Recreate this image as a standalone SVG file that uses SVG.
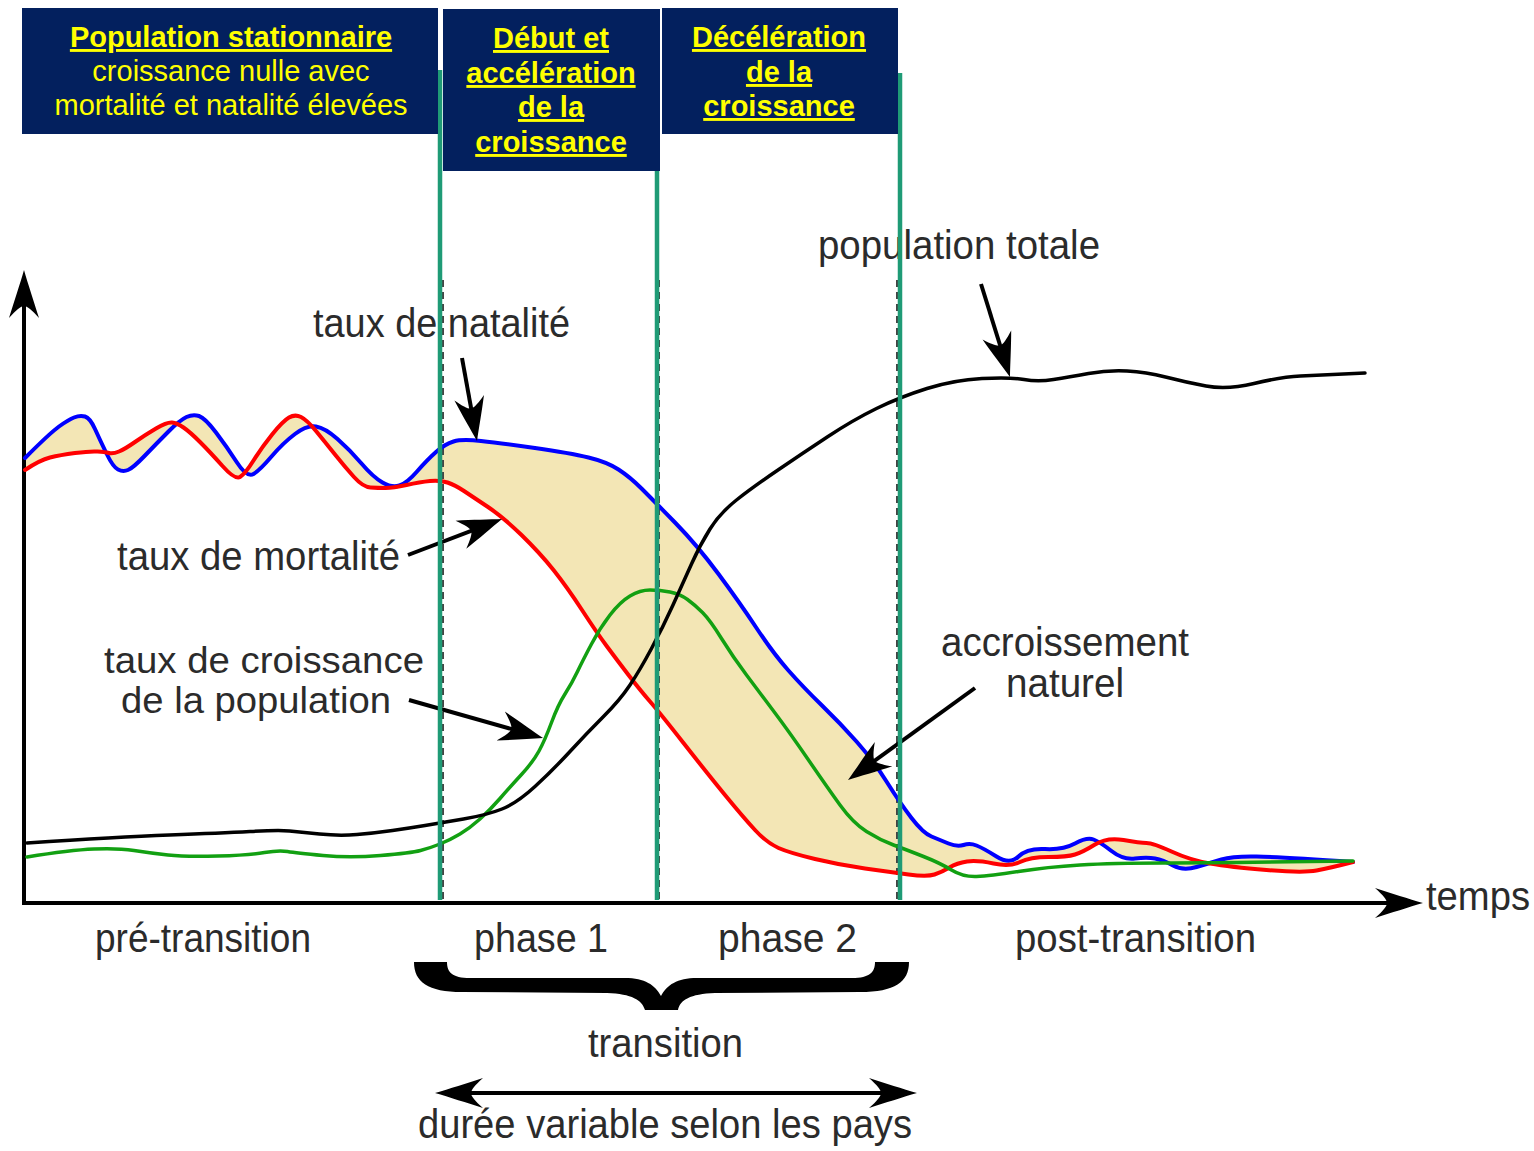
<svg xmlns="http://www.w3.org/2000/svg" width="1534" height="1151" viewBox="0 0 1534 1151">
<style>
.hdr{fill:#03205e}
.ht{font-family:"Liberation Sans",Arial,sans-serif;font-size:29px;fill:#ffff00;text-anchor:middle}
.hb{font-weight:bold;text-decoration:underline}
.lbl{font-family:"Liberation Sans",Arial,sans-serif;font-size:40px;fill:#2b2b2b}
.sm{font-size:37px}
.curve{fill:none;stroke-linejoin:round;stroke-linecap:round}
.gl{stroke:#1f9b76;stroke-width:4.5;fill:none}
.dl{stroke:#444;stroke-width:2;stroke-dasharray:7 5;fill:none}
.arr{stroke:#000;stroke-width:4;fill:none;marker-end:url(#ah)}
.axis{stroke:#000;stroke-width:4;fill:none}
</style>
<defs>
<marker id="ah" viewBox="-50 -20 60 40" markerWidth="60" markerHeight="40" refX="-12" refY="0" orient="auto" markerUnits="userSpaceOnUse">
<path d="M0,0 C-12,-4 -28,-10 -44,-15 C-37,-8 -33,-3 -33,0 C-33,3 -37,8 -44,15 C-28,10 -12,4 0,0 Z" fill="#000"/>
</marker>
<marker id="axh" viewBox="-56 -20 66 40" markerWidth="66" markerHeight="40" refX="-12" refY="0" orient="auto-start-reverse" markerUnits="userSpaceOnUse">
<path d="M0,0 C-14,-4 -32,-10 -48,-15 C-40,-8 -36,-3 -36,0 C-36,3 -40,8 -48,15 C-32,10 -14,4 0,0 Z" fill="#000"/>
</marker>
</defs>
<rect width="1534" height="1151" fill="#fff"/>

<g id="fill-accroissement">
<path fill="#f3e6b5" d="M25,458 Q50,433 59,426.5 Q68,420 74,417.5 Q80,415 85,416.5 Q90,418 95,429 Q100,440 106.5,453.5 Q113,467 118,469.5 Q123,472 128,470 Q133,468 145,455.5 Q157,443 168.5,431.5 Q180,420 186.5,417 Q193,414 199,416 Q205,418 216,432.5 Q227,447 237,462.5 Q247,478 253.5,474 Q260,470 271.5,456.5 Q283,443 295,434 Q307,425 316,426.5 Q325,428 337.5,439 Q350,450 361.5,463.5 Q373,477 382.5,482.5 Q392,488 399.5,485.5 Q407,483 417,471.5 Q427,460 436,452 Q445,444 453.5,441.5 Q462,439 481,441 Q500,443 535,448 Q570,453 588.5,457.5 Q607,462 618.5,469.5 Q630,477 641.5,488.5 Q653,500 675,522.5 Q697,545 718.5,574 Q740,603 756.5,628 Q773,653 788,670 Q803,687 821.5,705 Q840,723 856.5,741.5 Q873,760 886.5,781.5 Q900,803 911.5,818 Q923,833 931.5,836.5 Q940,840 948.5,843.5 Q957,847 963.5,845 Q970,843 976.5,845.5 Q983,848 996.5,856.5 Q1010,865 1018.5,856.5 Q1027,848 1045,849 Q1063,850 1075,843.5 Q1087,837 1093.5,839.5 Q1100,842 1111.5,851 Q1123,860 1135,858.5 Q1147,857 1155,858.5 Q1163,860 1173,865.5 Q1183,871 1196.5,867 Q1210,863 1221.5,859.5 Q1233,856 1256.5,856.5 Q1280,857 1353,862 Q1330,868 1316.5,870.5 Q1303,873 1266.5,870 Q1230,867 1210,863.5 Q1190,860 1171.5,851.5 Q1153,843 1146.5,843 Q1140,843 1123.5,840 Q1107,837 1095,844.5 Q1083,852 1075,854.5 Q1067,857 1048.5,857 Q1030,857 1020,862 Q1010,867 993.5,863.5 Q977,860 967,861.5 Q957,863 949.5,867.5 Q942,872 934.5,874.5 Q927,877 908.5,874.5 Q890,872 865,868.5 Q840,865 815,859 Q790,853 778.5,848 Q767,843 755,830 Q743,817 725,795 Q707,773 683.5,743 Q660,713 650,701.5 Q640,690 628.5,675 Q617,660 607,646.5 Q597,633 582,610 Q567,587 553.5,570 Q540,553 521.5,535 Q503,517 488,507 Q473,497 464,491 Q455,485 447.5,482.5 Q440,480 430,481 Q420,482 406.5,485 Q393,488 385.5,488 Q378,488 370.5,487.5 Q363,487 354,477 Q345,467 335,454.5 Q325,442 316,431 Q307,420 301,417 Q295,414 289,417.5 Q283,421 272.5,434 Q262,447 253.5,460.5 Q245,474 240,477 Q235,480 222.5,466 Q210,452 200,442 Q190,432 183.5,427.5 Q177,423 172,422.5 Q167,422 156,428.5 Q145,435 135,442 Q125,449 119,451.5 Q113,454 109,453 Q105,452 97.5,451.5 Q90,451 75,453 Q60,455 50,457.5 Q40,460 25,470 Z"/>
</g>

<g id="phase-dashes">
<line class="dl" x1="443" y1="280" x2="443" y2="903"/>
<line class="dl" x1="659" y1="280" x2="659" y2="903"/>
<line class="dl" x1="897" y1="280" x2="897" y2="903"/>
</g>

<g id="axes">
<line class="axis" x1="24" y1="905" x2="24" y2="282" marker-end="url(#axh)"/>
<line class="axis" x1="22" y1="903" x2="1411" y2="903" marker-end="url(#axh)"/>
</g>

<g id="curve-natalite">
<path class="curve" stroke="#0000ff" stroke-width="4" d="M25,458 Q50,433 59,426.5 Q68,420 74,417.5 Q80,415 85,416.5 Q90,418 95,429 Q100,440 106.5,453.5 Q113,467 118,469.5 Q123,472 128,470 Q133,468 145,455.5 Q157,443 168.5,431.5 Q180,420 186.5,417 Q193,414 199,416 Q205,418 216,432.5 Q227,447 237,462.5 Q247,478 253.5,474 Q260,470 271.5,456.5 Q283,443 295,434 Q307,425 316,426.5 Q325,428 337.5,439 Q350,450 361.5,463.5 Q373,477 382.5,482.5 Q392,488 399.5,485.5 Q407,483 417,471.5 Q427,460 436,452 Q445,444 453.5,441.5 Q462,439 481,441 Q500,443 535,448 Q570,453 588.5,457.5 Q607,462 618.5,469.5 Q630,477 641.5,488.5 Q653,500 675,522.5 Q697,545 718.5,574 Q740,603 756.5,628 Q773,653 788,670 Q803,687 821.5,705 Q840,723 856.5,741.5 Q873,760 886.5,781.5 Q900,803 911.5,818 Q923,833 931.5,836.5 Q940,840 948.5,843.5 Q957,847 963.5,845 Q970,843 976.5,845.5 Q983,848 996.5,856.5 Q1010,865 1018.5,856.5 Q1027,848 1045,849 Q1063,850 1075,843.5 Q1087,837 1093.5,839.5 Q1100,842 1111.5,851 Q1123,860 1135,858.5 Q1147,857 1155,858.5 Q1163,860 1173,865.5 Q1183,871 1196.5,867 Q1210,863 1221.5,859.5 Q1233,856 1256.5,856.5 Q1280,857 1353,862"/>
</g>
<g id="curve-mortalite">
<path class="curve" stroke="#ff0000" stroke-width="4" d="M25,470 Q40,460 50,457.5 Q60,455 75,453 Q90,451 97.5,451.5 Q105,452 109,453 Q113,454 119,451.5 Q125,449 135,442 Q145,435 156,428.5 Q167,422 172,422.5 Q177,423 183.5,427.5 Q190,432 200,442 Q210,452 222.5,466 Q235,480 240,477 Q245,474 253.5,460.5 Q262,447 272.5,434 Q283,421 289,417.5 Q295,414 301,417 Q307,420 316,431 Q325,442 335,454.5 Q345,467 354,477 Q363,487 370.5,487.5 Q378,488 385.5,488 Q393,488 406.5,485 Q420,482 430,481 Q440,480 447.5,482.5 Q455,485 464,491 Q473,497 488,507 Q503,517 521.5,535 Q540,553 553.5,570 Q567,587 582,610 Q597,633 607,646.5 Q617,660 628.5,675 Q640,690 650,701.5 Q660,713 683.5,743 Q707,773 725,795 Q743,817 755,830 Q767,843 778.5,848 Q790,853 815,859 Q840,865 865,868.5 Q890,872 908.5,874.5 Q927,877 934.5,874.5 Q942,872 949.5,867.5 Q957,863 967,861.5 Q977,860 993.5,863.5 Q1010,867 1020,862 Q1030,857 1048.5,857 Q1067,857 1075,854.5 Q1083,852 1095,844.5 Q1107,837 1123.5,840 Q1140,843 1146.5,843 Q1153,843 1171.5,851.5 Q1190,860 1210,863.5 Q1230,867 1266.5,870 Q1303,873 1316.5,870.5 Q1330,868 1353,862"/>
</g>
<g id="curve-croissance">
<path class="curve" stroke="#12a012" stroke-width="3.5" d="M27,857 Q70,850 94,849 Q118,848 134,850.5 Q150,853 168,855 Q186,857 218,856 Q250,855 264.5,852.5 Q279,850 287.5,851.5 Q296,853 323,855.5 Q350,858 380.5,855.5 Q411,853 420.5,850.5 Q430,848 440,844 Q450,840 460,834 Q470,828 480,819 Q490,810 500,798.5 Q510,787 521.5,774.5 Q533,762 539,751 Q545,740 551.5,722.5 Q558,705 565,694 Q572,683 577.5,671.5 Q583,660 591.5,644 Q600,628 610,615 Q620,602 630,596 Q640,590 650,590 Q660,590 670,592 Q680,594 687.5,599.5 Q695,605 702.5,612.5 Q710,620 721.5,638.5 Q733,657 746.5,675 Q760,693 775,713 Q790,733 808.5,760 Q827,787 840,805 Q853,823 866.5,831.5 Q880,840 893.5,845 Q907,850 923.5,856.5 Q940,863 951.5,870 Q963,877 976.5,876.5 Q990,876 1018.5,871.5 Q1047,867 1080,865 Q1113,863 1163,863 Q1213,863 1353,861"/>
</g>
<g id="curve-population">
<path class="curve" stroke="#000" stroke-width="3.5" d="M27,843 Q118,837 169.5,835 Q221,833 250,831.5 Q279,830 289.5,831 Q300,832 319.5,834 Q339,836 357,834.5 Q375,833 392.5,830.5 Q410,828 425,825.5 Q440,823 463.5,819 Q487,815 502,809 Q517,803 535,786.5 Q553,770 570,751.5 Q587,733 603.5,716.5 Q620,700 630,685 Q640,670 651.5,648.5 Q663,627 673,605 Q683,583 691.5,564 Q700,545 710,529 Q720,513 736.5,500 Q753,487 778,470 Q803,453 828,436.5 Q853,420 876.5,408.5 Q900,397 927,388.5 Q954,380 982,378.5 Q1010,377 1024,379.5 Q1038,382 1053.5,379.5 Q1069,377 1088.5,373.5 Q1108,370 1127,371 Q1146,372 1165.5,377 Q1185,382 1206,386 Q1227,390 1254,383.5 Q1281,377 1300.5,376 Q1320,375 1365,373"/>
</g>

<g id="labels">
<text class="lbl" x="313" y="337" textLength="257" lengthAdjust="spacingAndGlyphs">taux de natalité</text>
<text class="lbl" x="818" y="259" textLength="282" lengthAdjust="spacingAndGlyphs">population totale</text>
<text class="lbl" x="117" y="570" textLength="283" lengthAdjust="spacingAndGlyphs">taux de mortalité</text>
<text class="lbl sm" x="104" y="673" textLength="320" lengthAdjust="spacingAndGlyphs">taux de croissance</text>
<text class="lbl sm" x="121" y="713" textLength="270" lengthAdjust="spacingAndGlyphs">de la population</text>
<text class="lbl" x="941" y="656" textLength="248" lengthAdjust="spacingAndGlyphs">accroissement</text>
<text class="lbl" x="1006" y="697" textLength="118" lengthAdjust="spacingAndGlyphs">naturel</text>
<text class="lbl" x="95" y="952" textLength="216" lengthAdjust="spacingAndGlyphs">pré-transition</text>
<text class="lbl" x="474" y="952" textLength="134" lengthAdjust="spacingAndGlyphs">phase 1</text>
<text class="lbl" x="718" y="952" textLength="139" lengthAdjust="spacingAndGlyphs">phase 2</text>
<text class="lbl" x="1015" y="952" textLength="241" lengthAdjust="spacingAndGlyphs">post-transition</text>
<text class="lbl" x="1426" y="910" textLength="104" lengthAdjust="spacingAndGlyphs">temps</text>
<text class="lbl" x="588" y="1057" textLength="155" lengthAdjust="spacingAndGlyphs">transition</text>
<text class="lbl" x="418" y="1138" textLength="494" lengthAdjust="spacingAndGlyphs">durée variable selon les pays</text>
</g>

<g id="connectors">
<line class="arr" x1="462" y1="358" x2="474.9" y2="429.2"/>
<line class="arr" x1="408" y1="555" x2="490.8" y2="523.3"/>
<line class="arr" x1="409" y1="700" x2="531.5" y2="734.7"/>
<line class="arr" x1="981" y1="284" x2="1006.4" y2="365.5"/>
<line class="arr" x1="975" y1="688" x2="857.7" y2="773"/>
<line stroke="#000" stroke-width="4" x1="447" y1="1093" x2="905" y2="1093" marker-start="url(#axh)" marker-end="url(#axh)"/>
<path id="brace" fill="#000" d="M414,962 L447,962 C447,972 452,978 470,978 L625,978 C645,978 655,985 661,996 C667,985 677,978 697,978 L852,978 C870,978 875,972 875,962 L909,962 C909,982 895,992 860,992 L715,993 C690,994 680,1000 678,1010 L645,1010 C642,1000 632,994 607,993 L462,992 C428,992 414,982 414,962 Z"/>
</g>

<g id="phase-lines">
<line class="gl" x1="440" y1="70" x2="440" y2="900"/>
<line class="gl" x1="657" y1="160" x2="657" y2="900"/>
<line class="gl" x1="900" y1="73" x2="900" y2="900"/>
</g>

<g id="box-stationnaire">
<rect class="hdr" x="22" y="8" width="416" height="126"/>
<text class="ht hb" x="231" y="47">Population stationnaire</text>
<text class="ht" x="231" y="81">croissance nulle avec</text>
<text class="ht" x="231" y="115">mortalité et natalité élevées</text>
</g>
<g id="box-acceleration">
<rect class="hdr" x="443" y="9" width="217" height="162"/>
<text class="ht hb" x="551" y="48">Début et</text>
<text class="ht hb" x="551" y="83">accélération</text>
<text class="ht hb" x="551" y="117">de la</text>
<text class="ht hb" x="551" y="152">croissance</text>
</g>
<g id="box-deceleration">
<rect class="hdr" x="662" y="8" width="236" height="126"/>
<text class="ht hb" x="779" y="47">Décélération</text>
<text class="ht hb" x="779" y="82">de la</text>
<text class="ht hb" x="779" y="116">croissance</text>
</g>
</svg>
